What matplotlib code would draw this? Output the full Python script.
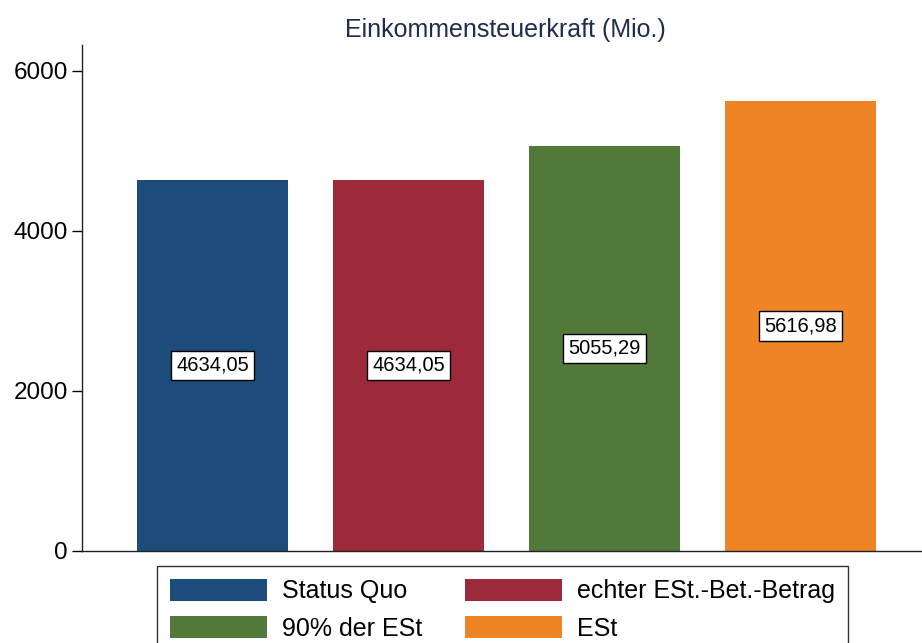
import matplotlib
matplotlib.use("Agg")
import matplotlib.pyplot as plt
from matplotlib.patches import Patch

plt.rcParams['font.family'] = ['Liberation Sans', 'DejaVu Sans']

categories = ["Status Quo", "echter ESt.-Bet.-Betrag", "90% der ESt", "ESt"]
values = [4634.05, 4634.05, 5055.29, 5616.98]
value_labels = ["4634,05", "4634,05", "5055,29", "5616,98"]
colors = ["#1b4c7a", "#9c2a3b", "#50793a", "#ee8426"]
yticks = [0, 2000, 4000, 6000]
title = "Einkommensteuerkraft (Mio.)"

fig = plt.figure(figsize=(9.22, 6.43), dpi=100)
ax = fig.add_axes([81.7/922, 1-550.7/643, 1-81.7/922, (550.7-45)/643])

x = list(range(len(values)))
ax.bar(x, values, width=0.77, color=colors)
for xi, v, lab in zip(x, values, value_labels):
    ax.text(xi, v/2, lab, ha='center', va='center', fontsize=14.5, color='black',
            bbox=dict(boxstyle='square,pad=0.25', fc='white', ec='black', lw=1))

ax.set_xlim(-0.667, 3.62)
ax.set_ylim(0, 6321)
ax.set_yticks(yticks)
ax.set_yticklabels([str(t) for t in yticks])
ax.tick_params(axis='y', length=7, width=1, labelsize=17.5, pad=3, colors='black')
ax.set_xticks([])
for s in ['top', 'right']:
    ax.spines[s].set_visible(False)
for s in ['left', 'bottom']:
    ax.spines[s].set_color('#222222')
    ax.spines[s].set_linewidth(1)

fig.text(505/922, 1-30/643, title, ha='center', va='center', fontsize=18, color='#1f2d4e')

handles = [Patch(facecolor=c, edgecolor='none') for c in colors]
# order: row1: Status Quo, echter ; row2: 90%, ESt  (matplotlib fills column-wise)
order = [0, 2, 1, 3]
leg = fig.legend([handles[i] for i in order], [categories[i] for i in order],
                 loc='upper left', bbox_to_anchor=(157/922, 1-566/643),
                 ncol=2, fontsize=18, frameon=True, fancybox=False,
                 edgecolor='black', borderaxespad=0, handlelength=3.9,
                 handleheight=1.0, handletextpad=0.6, columnspacing=1.7,
                 labelspacing=0.5, borderpad=0.5)
leg.get_frame().set_linewidth(1)

fig.savefig("out.png", dpi=100)
